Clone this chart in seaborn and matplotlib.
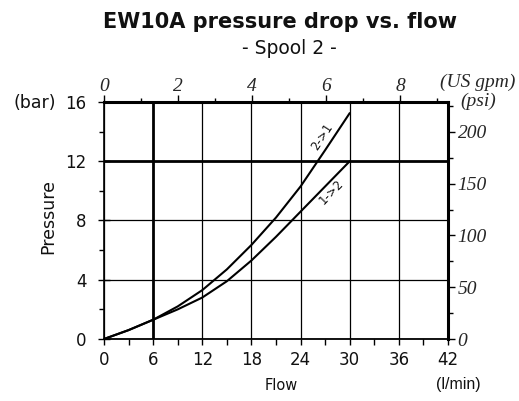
import matplotlib
matplotlib.use("Agg")
import matplotlib.pyplot as plt
from matplotlib.ticker import MultipleLocator, FixedLocator
import seaborn as sns
import pandas as pd

# ---- data ----
flow_21 = [0, 3, 6, 9, 12, 15, 18, 21, 24, 27, 30]
pres_21 = [0, 0.6, 1.3, 2.2, 3.3, 4.7, 6.35, 8.2, 10.3, 12.75, 15.25]
flow_12 = [0, 3, 6, 9, 12, 15, 18, 21, 24, 27, 30]
pres_12 = [0, 0.6, 1.3, 2.0, 2.8, 3.9, 5.3, 6.9, 8.6, 10.3, 12.0]
x_ticks = [0, 6, 12, 18, 24, 30, 36, 42]
y_ticks = [0, 4, 8, 12, 16]
gpm_ticks = [0, 2, 4, 6, 8]
psi_ticks = [0, 50, 100, 150, 200]
curve_labels = ["2->1", "1->2"]

df = pd.concat([
    pd.DataFrame({"flow": flow_21, "pressure": pres_21, "dir": curve_labels[0]}),
    pd.DataFrame({"flow": flow_12, "pressure": pres_12, "dir": curve_labels[1]}),
])

sns.set_theme(style="white")
plt.rcParams["font.family"] = ["DejaVu Sans"]

fig = plt.figure(figsize=(5.19, 4.01), dpi=100)
ax = fig.add_axes([104/519, 62/401, 344/519, 237/401])

sns.lineplot(data=df, x="flow", y="pressure", units="dir", estimator=None,
             color="black", linewidth=1.5, sort=False, ax=ax, legend=False)

ax.set_xlim(0, 42)
ax.set_ylim(0, 16)
ax.xaxis.set_major_locator(FixedLocator(x_ticks))
ax.xaxis.set_minor_locator(MultipleLocator(3))
ax.yaxis.set_major_locator(FixedLocator(y_ticks))
ax.yaxis.set_minor_locator(MultipleLocator(2))
ax.set_xticklabels([str(v) for v in x_ticks], fontsize=12, color="#111111")
ax.set_yticklabels([str(v) for v in y_ticks], fontsize=12, color="#111111")
ax.tick_params(axis="x", which="major", direction="out", length=4.5, width=1,
               color="black", pad=4, bottom=True)
ax.tick_params(axis="x", which="minor", direction="out", length=4, width=1,
               color="black", bottom=True)
ax.tick_params(axis="y", which="major", direction="inout", length=8, width=1,
               color="black", pad=8.5, left=True)
ax.tick_params(axis="y", which="minor", direction="out", length=3.5, width=1,
               color="black", left=True)
ax.grid(True, which="major", color="black", linewidth=0.9)
for i, gl in enumerate(ax.xaxis.get_gridlines()):
    if x_ticks[i] == 6:
        gl.set_linewidth(2.0)
for i, gl in enumerate(ax.yaxis.get_gridlines()):
    if y_ticks[i] == 12:
        gl.set_linewidth(2.0)

ax.set_xlabel("")
ax.set_ylabel("")
for s, w in [("left", 1.2), ("bottom", 1.3), ("top", 2.2), ("right", 2.2)]:
    ax.spines[s].set_visible(True)
    ax.spines[s].set_color("black")
    ax.spines[s].set_linewidth(w)

# secondary axes
GPM = 4.52
PSI = 14.3
serif_it = dict(family="Liberation Serif", style="italic", size=14)
top = ax.secondary_xaxis("top", functions=(lambda x: x / GPM, lambda g: g * GPM))
top.xaxis.set_minor_locator(MultipleLocator(1))
top.set_xticks(gpm_ticks)
top.set_xticklabels([str(v) for v in gpm_ticks], fontdict=serif_it)
top.tick_params(which="major", direction="out", length=5, width=1, pad=0, color="black")
top.tick_params(which="minor", direction="out", length=3, width=1, color="black")
top.spines["top"].set_visible(False)

right = ax.secondary_yaxis("right", functions=(lambda b: b * PSI, lambda p: p / PSI))
right.yaxis.set_minor_locator(MultipleLocator(25))
right.set_yticks(psi_ticks)
right.set_yticklabels([str(v) for v in psi_ticks], fontdict=serif_it)
right.tick_params(which="major", direction="out", length=5, width=1, pad=2, color="black")
right.tick_params(which="minor", direction="out", length=3.5, width=1, color="black")
right.spines["right"].set_visible(False)

# curve labels
ax.text(26.6, 13.66, curve_labels[0], rotation=57, ha="center", va="center",
        fontsize=8.5, color="#111111", rotation_mode="anchor")
ax.text(27.8, 9.95, curve_labels[1], rotation=46, ha="center", va="center",
        fontsize=8.5, color="#111111", rotation_mode="anchor")

# titles and axis texts
fig.text(280/519, 1 - 22/401, "EW10A pressure drop vs. flow", ha="center", va="center",
         fontsize=15, fontweight="bold", color="#111111")
fig.text(289/519, 1 - 48/401, "- Spool 2 -", ha="center", va="center",
         fontsize=13.5, color="#111111")
fig.text(56/519, 1 - 103/401, "(bar)", ha="right", va="center", fontsize=12.5, color="#111111")
fig.text(478/519, 1 - 82/401, "(US gpm)", ha="center", va="center", **serif_it)
fig.text(478/519, 1 - 101/401, "(psi)", ha="center", va="center", **serif_it)
fig.text(458/519, 1 - 385/401, "(l/min)", ha="center", va="center", fontsize=11.5,
         family="Liberation Sans", color="#111111")
fig.text(281/519, 1 - 386/401, "Flow", ha="center", va="center", fontsize=10.5,
         color="#111111")
fig.text(48/519, 1 - 216/401, "Pressure", ha="center", va="center", rotation=90,
         fontsize=12.5, color="#111111")

fig.savefig("out.png", dpi=100)
